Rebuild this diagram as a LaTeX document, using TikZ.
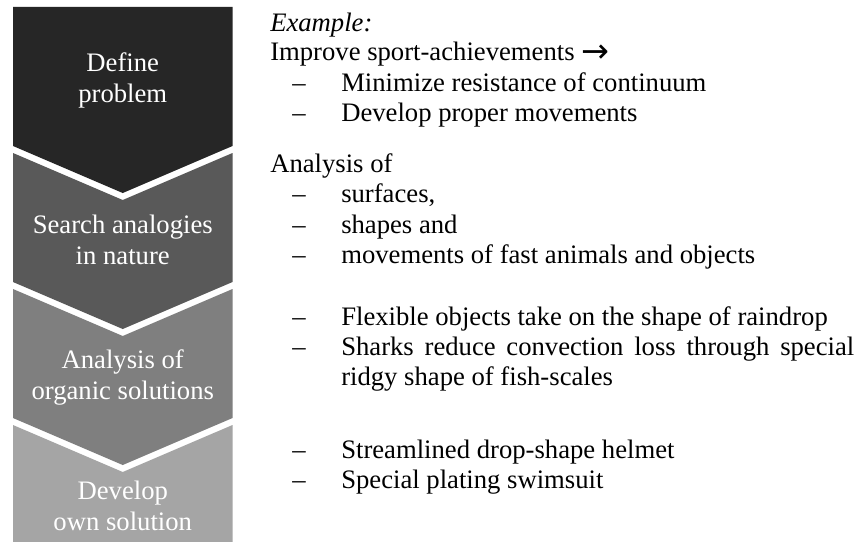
\documentclass[tikz,border=0pt]{standalone}
\usepackage{fontspec}
\setmainfont{Liberation Serif}
\newfontfamily\arrowfont{DejaVu Sans}
\definecolor{cA}{HTML}{262626}
\definecolor{cB}{HTML}{595959}
\definecolor{cC}{HTML}{7F7F7F}
\definecolor{cD}{HTML}{A5A5A5}
\begin{document}
\begin{tikzpicture}[x=0.75pt,y=-0.75pt,
  ctext/.style={text=white, align=center, inner sep=0pt, font=\fontsize{20}{23.25}\selectfont},
  rtext/.style={anchor=base west, inner sep=0pt, font=\fontsize{20}{22}\selectfont},
  dashmark/.style={anchor=base west, inner sep=0pt, font=\fontsize{20}{22}\selectfont}]
\useasboundingbox (0,0) rectangle (860,542);
\fill[white] (0,0) rectangle (860,542);
% chevrons
\fill[cA] (13,7) -- (232.5,7) -- (232.5,146) -- (122.75,193) -- (13,146) -- cycle;
\fill[cB] (13,153) -- (122.75,200) -- (232.5,153) -- (232.5,282) -- (122.75,329) -- (13,282) -- cycle;
\fill[cC] (13,289) -- (122.75,336) -- (232.5,289) -- (232.5,418) -- (122.75,465) -- (13,418) -- cycle;
\fill[cD] (13,425) -- (122.75,472) -- (232.5,425) -- (232.5,542) -- (13,542) -- cycle;
\node[ctext] (s1) at (122.75,80.3) {Define\\problem};
\node[ctext] (s2) at (122.75,239.4) {Search analogies\\in nature};
\node[ctext] (s3) at (122.75,377.3) {Analysis of\\organic solutions};
\node[ctext] (s4) at (122.75,506) {Develop\\own solution};
% right text
\node[rtext] (ex) at (270,31.5) {\textit{Example:}};
\node[rtext] (imp) at (270,61) {Improve sport-achievements {\arrowfont\fontsize{25}{25}\selectfont\raisebox{-1pt}{→}}};
\node[dashmark] (d1) at (292,91.5) {–};
\node[rtext] (t1) at (341,91.5) {Minimize resistance of continuum};
\node[dashmark] (d2) at (292,121.5) {–};
\node[rtext] (t2) at (341,121.5) {Develop proper movements};
\node[rtext] (an) at (270,172) {Analysis of};
\node[dashmark] (d3) at (292,202.5) {–};
\node[rtext] (t3) at (341,202.5) {surfaces,};
\node[dashmark] (d4) at (292,233) {–};
\node[rtext] (t4) at (341,233) {shapes and};
\node[dashmark] (d5) at (292,263.5) {–};
\node[rtext] (t5) at (341,263.5) {movements of fast animals and objects};
\node[dashmark] (d6) at (292,325) {–};
\node[rtext] (t6) at (341,325) {Flexible objects take on the shape of raindrop};
\node[dashmark] (d7) at (292,355.5) {–};
\node[rtext] (t7) at (341,355.5) {\makebox[384.75pt][s]{Sharks reduce convection loss through special}};
\node[rtext] (t8) at (341,385.5) {ridgy shape of fish-scales};
\node[dashmark] (d9) at (292,458) {–};
\node[rtext] (t9) at (341,458) {Streamlined drop-shape helmet};
\node[dashmark] (d10) at (292,488) {–};
\node[rtext] (t10) at (341,488) {Special plating swimsuit};
\end{tikzpicture}
\end{document}
